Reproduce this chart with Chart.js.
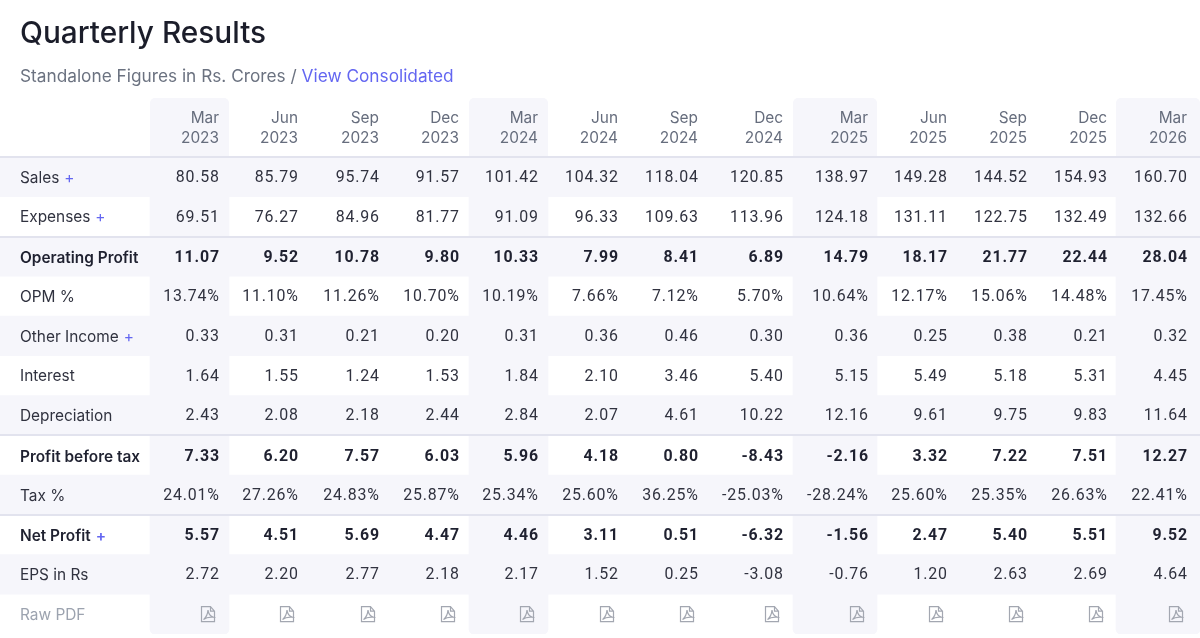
<!DOCTYPE html>
<html><head><meta charset="utf-8">
<style>html,body{margin:0;padding:0;background:#fff}canvas{display:block}</style>
<script src="https://cdn.jsdelivr.net/npm/chart.js@4/dist/chart.umd.min.js"></script>
</head><body><canvas id="c" width="1200" height="638"></canvas>
<script>
const periods = [['Mar','2023'],['Jun','2023'],['Sep','2023'],['Dec','2023'],['Mar','2024'],['Jun','2024'],['Sep','2024'],['Dec','2024'],['Mar','2025'],['Jun','2025'],['Sep','2025'],['Dec','2025'],['Mar','2026']];
const rowLabels = ['Sales','Expenses','Operating Profit','OPM %','Other Income','Interest','Depreciation','Profit before tax','Tax %','Net Profit','EPS in Rs','Raw PDF'];
const sales = [80.58,85.79,95.74,91.57,101.42,104.32,118.04,120.85,138.97,149.28,144.52,154.93,160.70];
const expenses = [69.51,76.27,84.96,81.77,91.09,96.33,109.63,113.96,124.18,131.11,122.75,132.49,132.66];
const operatingProfit = [11.07,9.52,10.78,9.80,10.33,7.99,8.41,6.89,14.79,18.17,21.77,22.44,28.04];
const opm = [13.74,11.10,11.26,10.70,10.19,7.66,7.12,5.70,10.64,12.17,15.06,14.48,17.45];
const otherIncome = [0.33,0.31,0.21,0.20,0.31,0.36,0.46,0.30,0.36,0.25,0.38,0.21,0.32];
const interest = [1.64,1.55,1.24,1.53,1.84,2.10,3.46,5.40,5.15,5.49,5.18,5.31,4.45];
const depreciation = [2.43,2.08,2.18,2.44,2.84,2.07,4.61,10.22,12.16,9.61,9.75,9.83,11.64];
const profitBeforeTax = [7.33,6.20,7.57,6.03,5.96,4.18,0.80,-8.43,-2.16,3.32,7.22,7.51,12.27];
const taxPct = [24.01,27.26,24.83,25.87,25.34,25.60,36.25,-25.03,-28.24,25.60,25.35,26.63,22.41];
const netProfit = [5.57,4.51,5.69,4.47,4.46,3.11,0.51,-6.32,-1.56,2.47,5.40,5.51,9.52];
const eps = [2.72,2.20,2.77,2.18,2.17,1.52,0.25,-3.08,-0.76,1.20,2.63,2.69,4.64];
const rowValues = [sales,expenses,operatingProfit,opm,otherIncome,interest,depreciation,profitBeforeTax,taxPct,netProfit,eps,null];
const percentRows = [3,8];
const boldRows = [2,7,9];
const plusRows = [0,1,4,9];
const ruleAboveRows = [0,2,7,9];
const bandColumns = [0,4,8,12];

// table layout (column boundaries on the x axis, which spans the page width)
const FONT = 'Inter';
const NUM_FONT = 'Roboto';
const WIDTH = 1200;
const colEdges = [150,229,309,389,469,548,628,708,793,877,957,1037,1116,1200];
const colRight = [219,298,379,459,538,618,698,783,868,947,1027,1107,1187];
const TINT = '#f6f6fb';
const SIZE = 15.4;

const cellText = (r,c) => {
  const v = rowValues[r][c].toFixed(2);
  return percentRows.includes(r) ? v + '%' : v;
};

function drawPdfIcon(ctx, right, cy){
  const w = 14, h = 16, x = right - 18, y = cy - h/2;
  ctx.save();
  ctx.translate(x, y);
  ctx.strokeStyle = '#a3a7b1';
  ctx.lineWidth = 1.2;
  ctx.beginPath();
  ctx.moveTo(0.5,0.5); ctx.lineTo(9.5,0.5); ctx.lineTo(w-0.5,5); ctx.lineTo(w-0.5,h-0.5); ctx.lineTo(0.5,h-0.5); ctx.closePath();
  ctx.moveTo(9.5,0.5); ctx.lineTo(9.5,5); ctx.lineTo(w-0.5,5);
  ctx.stroke();
  ctx.beginPath();
  ctx.moveTo(2.5,13.5); ctx.quadraticCurveTo(6.5,10,7,4); ctx.quadraticCurveTo(7.5,9,12,11); ctx.quadraticCurveTo(6,10.5,2.5,13.5);
  ctx.stroke();
  ctx.restore();
}

const tablePlugin = {
  id:'table',
  beforeDraw(chart){
    const {ctx, scales:{x}, chartArea} = chart;
    ctx.save();
    ctx.fillStyle = TINT;
    bandColumns.forEach(c => {
      const l = x.getPixelForValue(colEdges[c]), r = x.getPixelForValue(colEdges[c+1]);
      ctx.beginPath();
      ctx.roundRect(l, 98, r-l, chartArea.top-98+1, [5,5,0,0]);
      ctx.fill();
    });
    ctx.restore();
  },
  afterDatasetsDraw(chart){
    const {ctx, scales:{x,y}} = chart;
    ctx.save();
    ctx.textBaseline = 'middle';
    ctx.textAlign = 'left';
    ctx.fillStyle = '#1b1d2a';
    ctx.font = `500 29.8px ${FONT}`;
    ctx.fillText('Quarterly Results', 20, 34);
    ctx.font = `400 17.25px ${FONT}`;
    const sub = 'Standalone Figures in Rs. Crores / ';
    ctx.fillStyle = '#6b7280';
    ctx.fillText(sub, 20, 76.5);
    const subW = ctx.measureText(sub).width;
    ctx.fillStyle = '#6366f1';
    ctx.fillText('View Consolidated', 20 + subW, 76.5);

    rowLabels.forEach((label, r) => {
      const bold = boldRows.includes(r);
      const base = y.getPixelForValue(r);
      const py = base + (bold ? 1.8 : 1);
      ctx.font = `${bold?600:400} ${SIZE}px ${FONT}`;
      ctx.textAlign = 'left';
      ctx.fillStyle = r === lastRow ? '#9ca3af' : (bold ? '#1f2130' : '#30323f');
      ctx.fillText(label, 20, py);
      if (plusRows.includes(r)) {
        const w = ctx.measureText(label).width;
        ctx.fillStyle = '#6366f1';
        ctx.fillText('+', 20 + w + 5, py);
      }
      if (!rowValues[r]) {
        colRight.forEach(v => drawPdfIcon(ctx, x.getPixelForValue(v), base));
        return;
      }
      ctx.textAlign = 'right';
      ctx.font = `${bold?700:400} 15.9px ${NUM_FONT}`;
      ctx.letterSpacing = '0.85px';
      ctx.fillStyle = bold ? '#1f2130' : '#30323f';
      colRight.forEach((v,c) => ctx.fillText(cellText(r,c), x.getPixelForValue(v) + 0.85, py));
      ctx.letterSpacing = '0px';
    });
    ctx.restore();
  }
};

const lastRow = rowLabels.length - 1;
const stripes = rowLabels.map((_,r) => r % 2 === 0 ? [0, WIDTH] : null);
const bandSets = bandColumns.map(c => ({
  data: rowLabels.map(() => [colEdges[c], colEdges[c+1]]),
  backgroundColor: TINT,
  borderRadius: ctx => ctx.dataIndex === lastRow ? {topLeft:0,topRight:0,bottomLeft:5,bottomRight:5} : 0,
  borderSkipped:false, borderWidth:0
}));

new Chart(document.getElementById('c'), {
  type:'bar',
  plugins:[tablePlugin],
  data:{
    labels: rowLabels,
    datasets:[
      {data:stripes, backgroundColor:TINT, borderWidth:0, borderSkipped:false},
      ...bandSets
    ]
  },
  options:{
    indexAxis:'y',
    responsive:false,
    animation:false,
    devicePixelRatio:1,
    layout:{padding:{top:98,left:0,right:0,bottom:4}},
    datasets:{bar:{grouped:false,barPercentage:1,categoryPercentage:1}},
    plugins:{legend:{display:false},tooltip:{enabled:false},title:{display:false}},
    scales:{
      x:{
        type:'linear', position:'top', min:0, max:WIDTH,
        afterBuildTicks(a){ a.ticks = colRight.map(v => ({value:v})); },
        afterFit(a){ a.height = 59; a.paddingTop = 0; a.paddingBottom = 0; a.paddingLeft = 0; a.paddingRight = 0; },
        grid:{display:false,drawTicks:false}, border:{display:false},
        ticks:{
          z:1, align:'end', autoSkip:false, maxRotation:0, minRotation:0, padding:9,
          color:'#666d7d', font:{family:FONT,size:SIZE,lineHeight:1.3},
          callback:(v,i) => periods[i]
        }
      },
      y:{
        type:'category', position:'left', offset:true,
        afterFit(a){ a.width = 0; a.paddingTop = 0; a.paddingBottom = 0; a.paddingLeft = 0; a.paddingRight = 0; },
        border:{display:false},
        grid:{
          z:1, offset:true, drawTicks:false,
          color:c => ruleAboveRows.includes(c.index) ? '#e2e3ee' : 'rgba(0,0,0,0)',
          lineWidth:c => ruleAboveRows.includes(c.index) ? 2 : 0
        },
        ticks:{display:false}
      }
    }
  }
});
</script></body></html>
